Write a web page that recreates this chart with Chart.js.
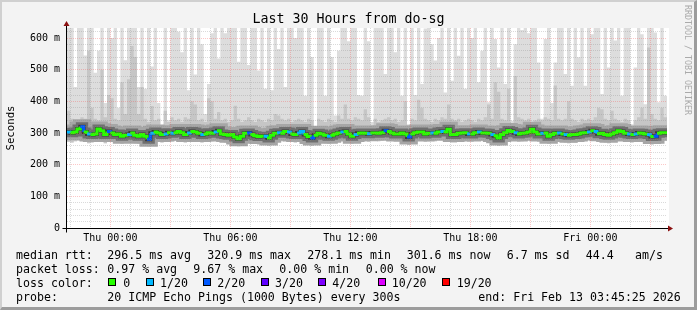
<!DOCTYPE html>
<html>
<head>
<meta charset="utf-8">
<script src="https://cdn.jsdelivr.net/npm/chart.js@4.4.1/dist/chart.umd.min.js"></script>
<style>
  html, body { margin: 0; padding: 0; background: #f3f3f3; }
  #wrap { position: relative; width: 697px; height: 310px; overflow: hidden; background: #f3f3f3; }
  #chart { position: absolute; left: 0; top: 0; }
  .frame { position: absolute; left: 0; top: 0; width: 697px; height: 310px; box-sizing: border-box;
           border-top: 2px solid #d0d0d0; border-left: 2px solid #d0d0d0;
           border-right: 3px solid #9c9c9c; border-bottom: 3px solid #9c9c9c; pointer-events: none; }
  .leg { position: absolute; font-family: 'DejaVu Sans Mono', monospace; font-size: 11.6px; line-height: 14px; color: #000; white-space: pre; }
  .box { position: absolute; width: 6px; height: 6px; border: 1px solid #000; }
  #mark { position: absolute; left: 683px; top: 5px; writing-mode: vertical-rl; font-family: 'DejaVu Sans Mono', monospace;
          font-size: 8.3px; line-height: 10px; color: #aaa; white-space: pre; }
</style>
</head>
<body>
<div id="wrap">
  <canvas id="chart" width="697" height="310"></canvas>
  <div id="mark">RRDTOOL / TOBI OETIKER</div>
  <div id="legend"></div>
  <div class="frame"></div>
</div>
<script>
// time axis in minutes relative to Thu 00:00, one column every 10 minutes
const startMinute = -130;
const endMinute = 1670;
const stepMinutes = 10;

// median rtt (ms)
const medianRtt = [
  302, 301, 303, 313, 320, 303, 297, 295, 297, 313,
  307, 295, 305, 300, 295, 297, 290, 293, 295, 300,
  293, 290, 295, 290, 280, 299, 303, 300, 295, 297,
  301, 299, 301, 305, 301, 295, 300, 305, 303, 299,
  295, 297, 301, 299, 303, 307, 297, 295, 293, 295,
  287, 282, 290, 299, 300, 295, 291, 289, 290, 290,
  284, 293, 299, 301, 299, 305, 303, 297, 295, 300,
  305, 295, 289, 284, 293, 299, 297, 293, 290, 293,
  297, 300, 303, 305, 297, 290, 295, 299, 300, 299,
  298, 300, 300, 299, 301, 307, 305, 300, 297, 297,
  300, 297, 287, 297, 301, 303, 303, 297, 299, 300,
  299, 303, 305, 303, 312, 295, 295, 299, 300, 301,
  297, 297, 301, 303, 300, 300, 299, 295, 291, 284,
  295, 301, 308, 305, 301, 297, 299, 300, 303, 312,
  303, 297, 299, 300, 290, 295, 299, 300, 297, 295,
  293, 295, 295, 297, 300, 301, 303, 307, 305, 298,
  299, 295, 293, 297, 301, 307, 305, 299, 297, 295,
  297, 300, 299, 297, 295, 289, 290, 299, 301, 301
];

// slowest ping of each column (ms); 700 = above the top of the graph
const maxRtt = [
  700, 700, 445, 700, 700, 545, 700, 700, 490, 560,
  700, 395, 700, 600, 700, 380, 700, 530, 700, 700,
  700, 445, 700, 440, 700, 510, 700, 395, 320, 700,
  340, 700, 700, 620, 555, 700, 435, 700, 485, 700,
  580, 360, 455, 615, 700, 535, 700, 615, 700, 700,
  700, 525, 700, 700, 515, 700, 700, 497, 700, 440,
  700, 435, 700, 565, 700, 445, 700, 700, 600, 700,
  700, 418, 700, 540, 318, 700, 700, 418, 700, 540,
  355, 560, 700, 700, 590, 700, 700, 420, 418, 700,
  590, 335, 700, 700, 700, 486, 700, 700, 555, 700,
  418, 700, 328, 700, 420, 700, 455, 630, 700, 580,
  529, 600, 700, 428, 700, 465, 700, 544, 700, 440,
  700, 600, 700, 460, 560, 700, 397, 700, 597, 507,
  700, 455, 700, 339, 580, 700, 625, 700, 615, 700,
  700, 523, 345, 597, 700, 395, 523, 700, 700, 486,
  700, 449, 700, 539, 700, 449, 700, 612, 700, 700,
  423, 700, 507, 700, 592, 700, 418, 700, 700, 328,
  507, 700, 612, 391, 700, 700, 617, 397, 700, 418
];

// second slowest ping (ms)
const upperRtt = [
  370, 345, 335, 340, 350, 345, 560, 380, 345, 340,
  500, 350, 420, 410, 345, 340, 460, 360, 470, 575,
  540, 360, 445, 345, 335, 385, 340, 345, 315, 370,
  335, 350, 340, 345, 335, 350, 345, 400, 390, 340,
  345, 335, 410, 400, 345, 366, 340, 345, 335, 340,
  386, 345, 335, 340, 350, 340, 335, 345, 340, 335,
  345, 340, 360, 355, 345, 340, 345, 335, 340, 345,
  340, 335, 345, 340, 312, 345, 340, 335, 345, 340,
  335, 355, 345, 390, 345, 340, 350, 345, 340, 375,
  350, 325, 345, 335, 340, 345, 350, 340, 345, 335,
  340, 400, 320, 345, 340, 405, 380, 345, 340, 335,
  345, 340, 350, 345, 390, 345, 340, 345, 335, 340,
  345, 340, 335, 345, 340, 350, 390, 345, 460, 430,
  345, 340, 440, 330, 480, 350, 345, 340, 345, 335,
  340, 345, 340, 350, 345, 340, 450, 345, 340, 345,
  400, 345, 340, 335, 345, 340, 345, 340, 350, 380,
  375, 345, 340, 370, 345, 340, 335, 345, 340, 320,
  340, 350, 380, 345, 570, 360, 345, 340, 380, 350
];

// fastest ping (ms)
const minRtt = [
  272, 270, 274, 276, 280, 272, 268, 270, 274, 278,
  276, 268, 274, 272, 270, 272, 266, 270, 272, 274,
  268, 266, 270, 266, 258, 272, 276, 274, 270, 272,
  276, 274, 276, 278, 276, 270, 274, 278, 276, 274,
  270, 272, 276, 274, 276, 280, 272, 270, 268, 270,
  262, 258, 266, 274, 274, 270, 266, 264, 266, 266,
  260, 268, 274, 276, 274, 278, 276, 272, 270, 274,
  278, 270, 264, 260, 268, 274, 272, 268, 266, 268,
  272, 274, 278, 280, 272, 266, 270, 274, 276, 274,
  272, 276, 276, 274, 276, 282, 280, 276, 272, 272,
  276, 272, 262, 272, 276, 278, 278, 272, 274, 276,
  274, 278, 280, 278, 286, 270, 270, 274, 276, 276,
  272, 272, 276, 278, 276, 276, 274, 270, 266, 260,
  270, 276, 282, 280, 276, 272, 274, 276, 278, 286,
  278, 272, 274, 276, 266, 270, 274, 276, 272, 270,
  268, 270, 270, 272, 276, 276, 278, 282, 280, 274,
  274, 270, 268, 272, 276, 282, 280, 274, 272, 270,
  272, 276, 274, 272, 270, 264, 266, 274, 276, 276
];

// loss colour class per column (0 = no loss, 1 = 1/20, 2 = 2/20)
const lossLevel = [
  1, 0, 0, 0, 2, 0, 1, 0, 0, 0,
  0, 0, 2, 0, 0, 0, 0, 0, 1, 0,
  0, 0, 0, 0, 2, 1, 0, 0, 0, 1,
  0, 1, 0, 0, 0, 0, 1, 0, 0, 0,
  1, 0, 0, 0, 1, 0, 0, 0, 0, 0,
  0, 0, 0, 0, 2, 0, 0, 0, 0, 1,
  0, 0, 0, 1, 0, 0, 1, 0, 0, 1,
  1, 0, 0, 2, 0, 0, 0, 0, 1, 0,
  0, 0, 1, 0, 0, 0, 1, 0, 0, 0,
  1, 0, 0, 0, 0, 2, 0, 0, 0, 0,
  0, 0, 2, 0, 0, 0, 0, 0, 0, 1,
  0, 0, 1, 0, 0, 0, 0, 0, 0, 0,
  1, 0, 0, 1, 0, 0, 0, 1, 0, 0,
  0, 0, 0, 0, 1, 0, 0, 0, 0, 0,
  0, 0, 1, 0, 0, 0, 0, 1, 0, 1,
  0, 0, 0, 0, 0, 0, 1, 0, 1, 0,
  0, 0, 0, 0, 0, 0, 0, 0, 1, 0,
  1, 0, 0, 0, 1, 0, 2, 0, 0, 0
];

const lossColors = ['#26ff00', '#00b8ff', '#0059ff', '#5e00ff', '#7e00ff', '#dd00ff', '#ff0000'];
const lossLabels = ['0', '1/20', '2/20', '3/20', '4/20', '10/20', '19/20'];

const xTickPositions = [0, 360, 720, 1080, 1440];
const xTickLabels = ['Thu 00:00', 'Thu 06:00', 'Thu 12:00', 'Thu 18:00', 'Fri 00:00'];
const yTickLabels = ['0', '100 m', '200 m', '300 m', '400 m', '500 m', '600 m'];

const monoFont = "'DejaVu Sans Mono', monospace";
const majorGrid = 'rgba(245,80,80,0.32)';
const minorGrid = 'rgba(140,140,140,0.32)';

// legend block under the graph
const legendText = [
  [16, 0, 'median rtt:'], [107.3, 0, '296.5 ms avg'], [207.3, 0, '320.9 ms max'], [307.3, 0, '278.1 ms min'],
  [406.7, 0, '301.6 ms now'], [506.7, 0, '6.7 ms sd'], [585.7, 0, '44.4'], [635, 0, 'am/s'],
  [16, 1, 'packet loss:'], [107.3, 1, '0.97 % avg'], [193.3, 1, '9.67 % max'], [279.3, 1, '0.00 % min'], [365.7, 1, '0.00 % now'],
  [16, 2, 'loss color:'],
  [16, 3, 'probe:'], [107.3, 3, '20 ICMP Echo Pings (1000 Bytes) every 300s'], [478.3, 3, 'end: Fri Feb 13 03:45:25 2026']
];
const lossBoxX = [108.3, 145.7, 203.3, 260.7, 318.3, 377.7, 441.7];
const lossLabelX = [123.3, 160, 217.3, 275, 332.3, 391.7, 456.7];

const legend = document.getElementById('legend');
legendText.forEach(([x, row, text]) => {
  const el = document.createElement('div');
  el.className = 'leg';
  el.style.left = x + 'px';
  el.style.top = (247.5 + row * 14) + 'px';
  el.textContent = text;
  legend.appendChild(el);
});
lossColors.forEach((c, i) => {
  const b = document.createElement('div');
  b.className = 'box';
  b.style.left = lossBoxX[i] + 'px';
  b.style.top = '278.3px';
  b.style.background = c;
  legend.appendChild(b);
  const t = document.createElement('div');
  t.className = 'leg';
  t.style.left = lossLabelX[i] + 'px';
  t.style.top = (247.5 + 2 * 14) + 'px';
  t.textContent = lossLabels[i];
  legend.appendChild(t);
});

function toPoints(values) {
  const pts = values.map((v, i) => ({ x: startMinute + i * stepMinutes, y: v }));
  pts.push({ x: endMinute, y: values[values.length - 1] });
  return pts;
}

const smokeLine = (color, width) => ({
  data: toPoints(medianRtt), borderColor: color, borderWidth: width,
  stepped: true, pointRadius: 0, fill: false, clip: 0, borderCapStyle: 'butt'
});

const plotBackground = {
  id: 'plotBackground',
  beforeDraw(chart) {
    const { ctx, chartArea: a } = chart;
    ctx.save();
    ctx.fillStyle = '#ffffff';
    ctx.fillRect(a.left, a.top, a.right - a.left + 2, a.bottom - a.top);
    ctx.restore();
  }
};

const axisArrows = {
  id: 'axisArrows',
  afterDraw(chart) {
    const { ctx, chartArea: a } = chart;
    const x0 = Math.round(a.left) - 0.5, y0 = Math.round(a.bottom) + 0.5;
    ctx.save();
    ctx.strokeStyle = '#000';
    ctx.lineWidth = 1;
    ctx.beginPath();
    ctx.moveTo(x0 - 4, y0); ctx.lineTo(a.right + 4, y0);
    ctx.moveTo(x0, y0 + 4); ctx.lineTo(x0, a.top - 5);
    ctx.stroke();
    ctx.fillStyle = '#8b1010';
    ctx.beginPath();
    ctx.moveTo(a.right + 1, y0 - 3); ctx.lineTo(a.right + 6, y0); ctx.lineTo(a.right + 1, y0 + 3);
    ctx.closePath(); ctx.fill();
    ctx.beginPath();
    ctx.moveTo(x0 - 3, a.top - 2); ctx.lineTo(x0, a.top - 7); ctx.lineTo(x0 + 3, a.top - 2);
    ctx.closePath(); ctx.fill();
    ctx.restore();
  }
};

new Chart(document.getElementById('chart'), {
  type: 'line',
  data: {
    datasets: [
      {
        label: 'median rtt', data: toPoints(medianRtt), borderWidth: 3, stepped: true,
        pointRadius: 0, fill: false, clip: 0, borderCapStyle: 'butt',
        borderColor: lossColors[0],
        segment: { borderColor: ctx => lossColors[lossLevel[ctx.p0DataIndex]] }
      },
      smokeLine('#3c3c3c', 4),
      smokeLine('#6f6f6f', 9),
      smokeLine('#a6a6a6', 15),
      {
        label: 'upper', data: toPoints(upperRtt), borderWidth: 0, borderColor: 'transparent',
        stepped: true, pointRadius: 0, clip: 0, fill: { target: 6 }, backgroundColor: '#c6c6c6'
      },
      {
        label: 'max', data: toPoints(maxRtt), borderWidth: 0, borderColor: 'transparent',
        stepped: true, pointRadius: 0, clip: 0, fill: { target: 6 }, backgroundColor: '#dddddd'
      },
      {
        label: 'min', data: toPoints(minRtt), borderWidth: 0, borderColor: 'transparent',
        stepped: true, pointRadius: 0, clip: 0, fill: false
      }
    ]
  },
  options: {
    responsive: false,
    animation: false,
    devicePixelRatio: 1,
    layout: { padding: 0 },
    plugins: {
      legend: { display: false },
      tooltip: { enabled: false },
      title: {
        display: true,
        text: 'Last 30 Hours from do-sg',
        color: '#000',
        font: { family: monoFont, size: 13.3, weight: 'normal', lineHeight: 1.2 },
        padding: { top: 11.3, bottom: 0.74 }
      }
    },
    scales: {
      x: {
        type: 'linear', position: 'bottom', min: startMinute, max: endMinute,
        afterBuildTicks: axis => {
          const t = [];
          for (let m = -120; m <= 1620; m += 60) t.push({ value: m });
          axis.ticks = t;
        },
        afterFit: axis => { axis.height = 82; },
        grid: { color: ctx => (ctx.tick && ctx.tick.value % 180 === 0) ? majorGrid : minorGrid, z: 1, drawTicks: false },
        border: { display: false, dash: [1, 1] },
        ticks: {
          autoSkip: false, maxRotation: 0, minRotation: 0, padding: 4, color: '#000',
          font: { family: monoFont, size: 10 },
          callback: v => { const k = xTickPositions.indexOf(v); return k >= 0 ? xTickLabels[k] : ''; }
        }
      },
      y: {
        type: 'linear', position: 'left', min: 0, max: 631.6,
        afterBuildTicks: axis => {
          const t = [];
          for (let v = 0; v <= 620; v += 20) t.push({ value: v });
          axis.ticks = t;
        },
        afterFit: axis => { axis.width = 67; },
        grid: { color: ctx => (ctx.tick && ctx.tick.value % 100 === 0) ? majorGrid : minorGrid, z: 1, drawTicks: false },
        border: { display: false, dash: [1, 1] },
        ticks: {
          autoSkip: false, padding: 7, color: '#000',
          font: { family: monoFont, size: 10 },
          callback: v => v % 100 === 0 ? yTickLabels[v / 100] : ''
        },
        title: {
          display: true, text: 'Seconds', color: '#000',
          font: { family: monoFont, size: 10.7 },
          padding: { top: 4.5, bottom: 0 }
        }
      },
      side: {
        type: 'linear', position: 'right', min: 0, max: 1,
        grid: { display: false }, border: { display: false }, ticks: { display: false },
        afterFit: axis => { axis.width = 30; }
      }
    }
  },
  plugins: [plotBackground, axisArrows]
});
</script>
</body>
</html>
